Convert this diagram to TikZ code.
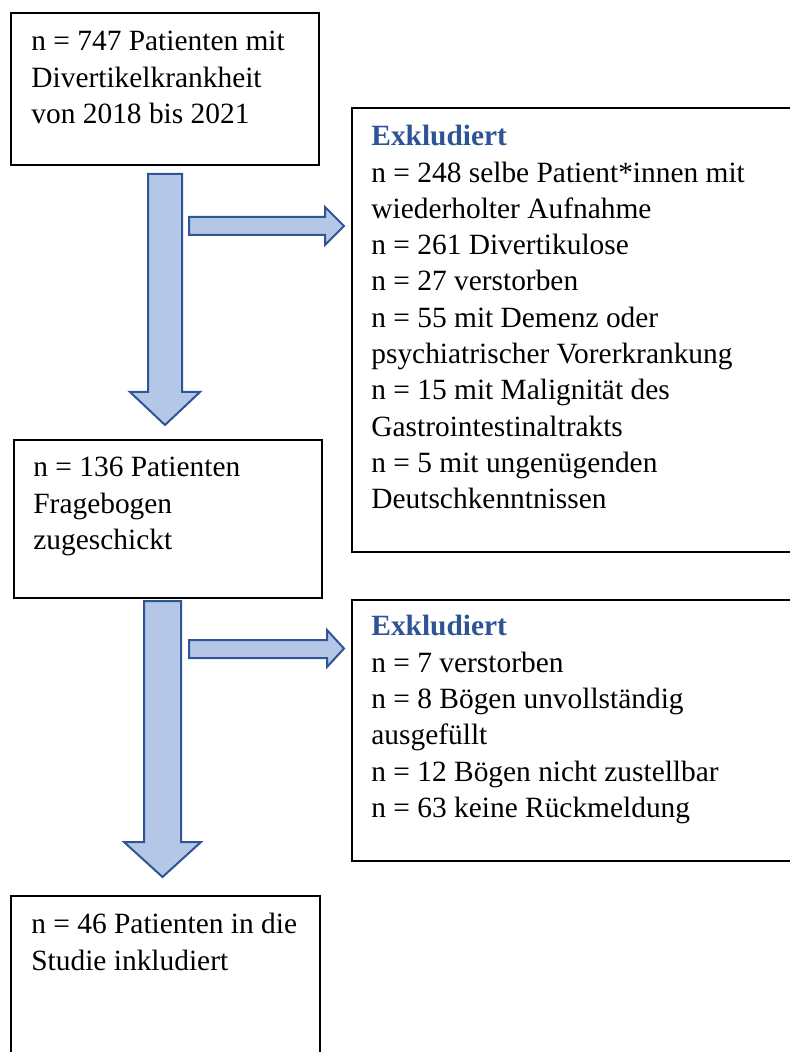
\documentclass[tikz,border=0pt]{standalone}
\usepackage{fontspec}
\setmainfont{Liberation Serif}
\definecolor{arrowfill}{HTML}{B4C7E7}
\definecolor{arrowline}{HTML}{2F5597}
\definecolor{exclblue}{HTML}{2F5496}
\newcommand{\exclhead}{{\color{exclblue}\bfseries Exkludiert}}
\tikzset{
  box/.style={draw, line width=0.9pt, anchor=north west, inner sep=0pt},
  boxtext/.style={anchor=north west, inner sep=0pt, align=left, font=\fontsize{14.7}{18.15}\selectfont},
  blockarrow/.style={fill=arrowfill, draw=arrowline, line width=1pt},
}

\begin{document}
\begin{tikzpicture}[x=0.5pt,y=-0.5pt]
                \useasboundingbox (0,0) rectangle (789,1052);
                % boxes
                \node[box, minimum width=154pt, minimum height=76pt] (start) at (10,12) {};
                \node[box, minimum width=154pt, minimum height=79pt] (sent) at (13,439) {};
                \node[box, minimum width=154.5pt, minimum height=88pt] (incl) at (10,895) {};
                \node[box, minimum width=222pt, minimum height=222pt] (excl1) at (351,107) {};
                \node[box, minimum width=222pt, minimum height=130.5pt] (excl2) at (351,599) {};
                % texts
                \node[boxtext] (starttext) at ([shift={(10.5pt,-9.5pt)}]start.north west)
                    {n = 747 Patienten mit\\Divertikelkrankheit\\von 2018 bis 2021};
                \node[boxtext] (senttext) at ([shift={(10pt,-9pt)}]sent.north west)
                    {n = 136 Patienten\\Fragebogen\\zugeschickt};
                \node[boxtext] (incltext) at ([shift={(10.5pt,-9pt)}]incl.north west)
                    {n = 46 Patienten in die\\Studie inkludiert};
                \node[boxtext] (excl1text) at ([shift={(10pt,-9pt)}]excl1.north west)
                    {\exclhead\\n = 248 selbe Patient*innen mit\\wiederholter Aufnahme\\n = 261 Divertikulose\\n = 27 verstorben\\n = 55 mit Demenz oder\\psychiatrischer Vorerkrankung\\n = 15 mit Malignität des\\Gastrointestinaltrakts\\n = 5 mit ungenügenden\\Deutschkenntnissen};
                \node[boxtext] (excl2text) at ([shift={(10pt,-8pt)}]excl2.north west)
                    {\exclhead\\n = 7 verstorben\\n = 8 Bögen unvollständig\\ausgefüllt\\n = 12 Bögen nicht zustellbar\\n = 63 keine Rückmeldung};
                % block arrows
                \draw[blockarrow] (148,174) -- (182,174) -- (182,392) -- (200,392) -- (165,425) -- (130,392) -- (148,392) -- cycle;
                \draw[blockarrow] (189,217) -- (325,217) -- (325,207) -- (344,226) -- (325,245) -- (325,235) -- (189,235) -- cycle;
                \draw[blockarrow] (144,601) -- (181,601) -- (181,842) -- (201,842) -- (162.5,877) -- (124,842) -- (144,842) -- cycle;
                \draw[blockarrow] (189,640) -- (327,640) -- (327,630) -- (344,648.5) -- (327,667) -- (327,658) -- (189,658) -- cycle;
            \end{tikzpicture}
\end{document}
